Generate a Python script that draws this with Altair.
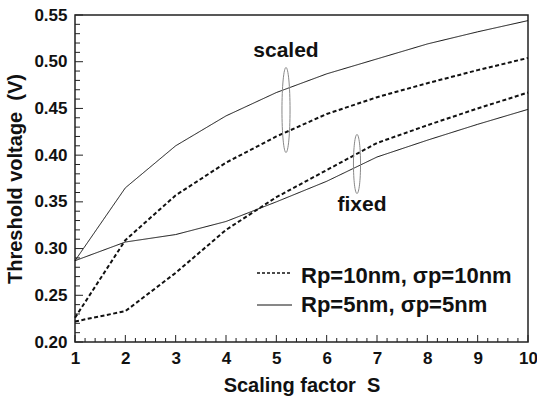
import altair as alt
import pandas as pd
import numpy as np

# ---- data ----
S = [1, 2, 3, 4, 5, 6, 7, 8, 9, 10]
scaled_5nm = [0.287, 0.365, 0.410, 0.442, 0.467, 0.487, 0.503, 0.519, 0.532, 0.544]
scaled_10nm = [0.226, 0.309, 0.357, 0.392, 0.420, 0.444, 0.462, 0.477, 0.491, 0.504]
fixed_10nm = [0.222, 0.233, 0.274, 0.320, 0.355, 0.384, 0.413, 0.432, 0.450, 0.467]
fixed_5nm = [0.287, 0.307, 0.315, 0.329, 0.350, 0.372, 0.398, 0.416, 0.433, 0.449]

x_major = [1, 2, 3, 4, 5, 6, 7, 8, 9, 10]
y_major = [0.20, 0.25, 0.30, 0.35, 0.40, 0.45, 0.50, 0.55]
x_minor = [round(v, 2) for v in np.arange(1, 10.001, 0.2) if abs(v - round(v)) > 1e-6]
y_minor = [round(v, 3) for v in np.arange(0.20, 0.5501, 0.01)
           if abs(v * 20 - round(v * 20)) > 1e-6]

legend_labels = ["Rp=10nm, \u03c3p=10nm", "Rp=5nm, \u03c3p=5nm"]
x_title = "Scaling factor\u00a0\u00a0S"
y_title = "Threshold voltage\u00a0\u00a0(V)"

W, H = 453, 327
FONT = "Liberation Sans"

rows = []
for name, vals, style in [("scaled_5nm", scaled_5nm, "solid"),
                          ("scaled_10nm", scaled_10nm, "dashed"),
                          ("fixed_10nm", fixed_10nm, "dashed"),
                          ("fixed_5nm", fixed_5nm, "solid")]:
    for s, v in zip(S, vals):
        rows.append({"S": s, "V": v, "series": name, "style": style})
df = pd.DataFrame(rows)

xs = alt.Scale(domain=[1, 10], nice=False)
ys = alt.Scale(domain=[0.20, 0.55], nice=False)
xax = alt.Axis(values=x_major, title=x_title, labelFlush=False, titlePadding=9)
yax = alt.Axis(values=y_major, format=".2f", title=y_title, titlePadding=8)

lines = alt.Chart(df).mark_line(color="#111").encode(
    x=alt.X("S:Q", scale=xs, axis=xax),
    y=alt.Y("V:Q", scale=ys, axis=yax),
    detail="series:N",
    strokeDash=alt.StrokeDash("style:N", scale=alt.Scale(domain=["dashed", "solid"],
                                                         range=[[4, 2.5], [1, 0]]), legend=None),
    strokeWidth=alt.StrokeWidth("style:N", scale=alt.Scale(domain=["dashed", "solid"],
                                                           range=[2, 1.0]), legend=None),
)

xmaj = alt.Chart(pd.DataFrame({"S": x_major})).mark_rule(color="#222", strokeWidth=1).encode(
    x=alt.X("S:Q", scale=xs, axis=xax), y=alt.value(H), y2=alt.value(H - 7))
xmin = alt.Chart(pd.DataFrame({"S": x_minor})).mark_rule(color="#222", strokeWidth=1).encode(
    x=alt.X("S:Q", scale=xs, axis=xax), y=alt.value(H), y2=alt.value(H - 4))
ymaj = alt.Chart(pd.DataFrame({"V": y_major})).mark_rule(color="#222", strokeWidth=1).encode(
    y=alt.Y("V:Q", scale=ys, axis=yax), x=alt.value(0), x2=alt.value(8))
ymin = alt.Chart(pd.DataFrame({"V": y_minor})).mark_rule(color="#222", strokeWidth=1).encode(
    y=alt.Y("V:Q", scale=ys, axis=yax), x=alt.value(0), x2=alt.value(5))

# annotations
ann_text = alt.Chart(pd.DataFrame({"t": ["scaled", "fixed"], "px": [211, 287], "py": [36, 190]})).mark_text(
    font=FONT, fontSize=21, fontWeight="bold", color="#111", align="center", baseline="middle"
).encode(x=alt.X("px:Q", scale=None), y=alt.Y("py:Q", scale=None), text="t:N")

ell1 = alt.Chart(pd.DataFrame({"a": [0]})).mark_point(
    shape="M0,-1 A0.095,1 0 1,1 0,1 A0.095,1 0 1,1 0,-1 Z", size=7225,
    filled=False, color="#888", strokeWidth=1, opacity=1
).encode(x=alt.value(211), y=alt.value(95))
ell2 = alt.Chart(pd.DataFrame({"a": [0]})).mark_point(
    shape="M0,-1 A0.12,1 0 1,1 0,1 A0.12,1 0 1,1 0,-1 Z", size=3481,
    filled=False, color="#888", strokeWidth=1, opacity=1
).encode(x=alt.value(282), y=alt.value(149))

# legend
leg_dash = alt.Chart(pd.DataFrame({"a": [0]})).mark_rule(color="#111", strokeWidth=1.5, strokeDash=[3, 2]).encode(
    x=alt.value(182), x2=alt.value(217), y=alt.value(258))
leg_solid = alt.Chart(pd.DataFrame({"a": [0]})).mark_rule(color="#111", strokeWidth=1).encode(
    x=alt.value(182), x2=alt.value(217), y=alt.value(290))
leg_text = alt.Chart(pd.DataFrame({"t": legend_labels, "py": [261, 290]})).mark_text(
    font=FONT, fontSize=22, fontWeight="bold", color="#111", align="left", baseline="middle"
).encode(x=alt.value(226), y=alt.Y("py:Q", scale=None), text="t:N")

chart = alt.layer(lines, xmaj, xmin, ymaj, ymin, ell1, ell2, ann_text, leg_dash, leg_solid, leg_text).properties(
    width=W, height=H,
    autosize=alt.AutoSizeParams(type="none"),
    padding={"left": 75, "top": 15, "right": 9, "bottom": 56},
    background="white",
).configure_view(stroke="#222", strokeWidth=1.5).configure_axis(
    ticks=False, domain=False, grid=False,
    labelFont=FONT, labelFontSize=17, labelFontWeight="bold", labelColor="#111", labelPadding=8,
    titleFont=FONT, titleFontSize=20, titleFontWeight="bold", titleColor="#111",
)

chart.save("out.html", embed_options={"renderer": "svg", "actions": False})
